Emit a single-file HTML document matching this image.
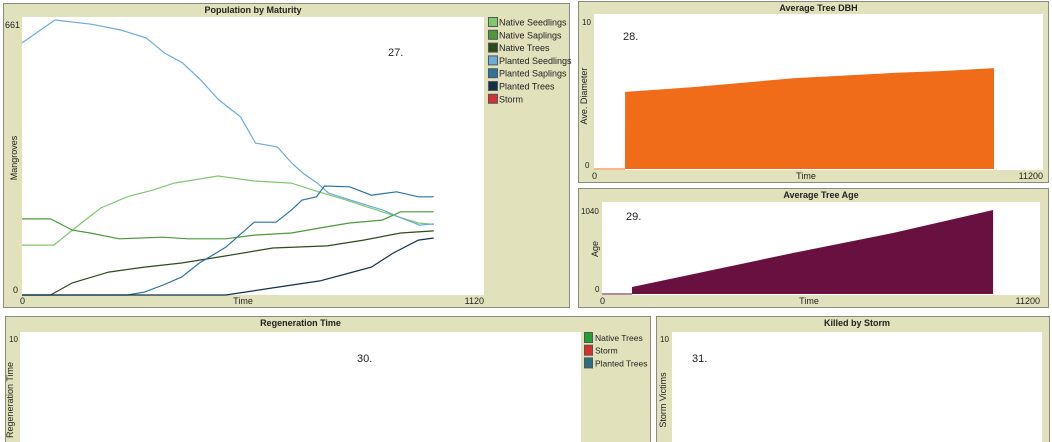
<!DOCTYPE html>
<html><head><meta charset="utf-8"><style>
html,body{margin:0;padding:0;background:#fff;width:1052px;height:442px;overflow:hidden}
svg{display:block;font-family:"Liberation Sans",sans-serif}
</style></head><body>
<svg id="s" width="1052" height="442" viewBox="0 0 1052 442"></svg>
<script>
// ---- Population by Maturity data ----
const popLabels=["Native Seedlings","Native Saplings","Native Trees","Planted Seedlings","Planted Saplings","Planted Trees","Storm"];
const popColors=["#7ec86e","#4a9a3a","#2c4c1c","#6aacdc","#2a74a0","#12304a","#d83030"];
const nsT=[0,77,122,191,255,316,369,475,563,653,706,786,873,961,998];
const nsV=[120,120,156,209,236,252,269,286,274,269,252,228,200,173,170];
const napT=[0,69,122,165,236,342,403,494,563,653,722,794,873,918,998];
const napV=[183,183,156,149,135,139,135,135,144,149,161,173,180,200,200];
const ntT=[0,69,122,210,297,387,494,608,740,828,918,998];
const ntV=[0,0,29,55,67,77,94,113,118,132,149,154];
const psT=[0,80,168,239,301,345,389,433,477,530,566,619,654,681,716,743,796,875,919,964,999];
const psV=[606,661,651,637,618,582,558,517,469,428,365,356,317,293,269,245,228,204,185,168,171];
const pspT=[0,255,297,342,387,430,494,563,616,653,679,714,733,794,847,908,961,998];
const pspV=[0,0,7,24,43,77,115,175,175,204,228,236,262,260,240,248,236,236];
const ptT=[0,494,608,722,794,847,900,961,998];
const ptV=[0,0,17,34,53,67,101,132,137];
const popYMax=661, popXMax=1120;
// ---- DBH ----
const dbhT=[0,774,775,2470,4963,7460,8706,9978];
const dbhV=[0,0,5.07,5.39,5.97,6.32,6.45,6.64];
// ---- Age ----
const ageT=[0,766,767,4884,7441,10000];
const ageV=[0,0,87,508,755,1040];

const NS="http://www.w3.org/2000/svg";
const svg=document.getElementById('s');
function el(tag,attrs,parent){const e=document.createElementNS(NS,tag);for(const k in attrs)e.setAttribute(k,attrs[k]);(parent||svg).appendChild(e);return e;}
function txt(x,y,s,extra){const t=el('text',Object.assign({x:x,y:y,'font-size':9,fill:'#222'},extra||{}));t.textContent=s;return t;}
function panel(x,y,w,h,title,name,px,py,pw,ph){
  const g=el('g',{});
  
  
  el('rect',{x:x+.5,y:y+.5,width:w,height:h,fill:'#e1e1bb',stroke:'#8a8a80'},g);
  el('rect',{x:px,y:py,width:pw,height:ph,fill:'#fff'},g);
  const t=txt(px+pw/2,y+10,title,{'text-anchor':'middle','font-weight':'bold'});
  
  
  g.appendChild(t);
  return g;
}
function vlabel(x,y,s,name){const t=txt(x,y,s,{'text-anchor':'middle',transform:`rotate(-90 ${x} ${y})`});
  
  }

// Main chart
panel(3,3,566,304,"Population by Maturity","population-chart",22,17,462,278);
const px0=22,px1=484,py0=295,py1=20;
const X=t=>px0+t/popXMax*(px1-px0), Y=v=>py0-v/popYMax*(py0-py1);
const series=[[nsT,nsV],[napT,napV],[ntT,ntV],[psT,psV],[pspT,pspV],[ptT,ptV]];
series.forEach((s,i)=>{
  let d='';
  s[0].forEach((t,j)=>{d+=(j?'L':'M')+X(t).toFixed(1)+','+Y(s[1][j]).toFixed(1);});
  const p=el('path',{d:d,fill:'none',stroke:popColors[i],'stroke-width':1.2});
  
  
});
txt(5,28,"661");txt(13,293,"0");txt(20,304,"0");
txt(243,304,"Time",{'text-anchor':'middle'});txt(484,304,"1120",{'text-anchor':'end'});
vlabel(17,158,"Mangroves","y-axis-title-mangroves");
txt(388,56,"27.",{'font-size':11});
popLabels.forEach((l,i)=>{
  const yy=17+i*12.8;
  const r=el('rect',{x:488.5,y:yy+.5,width:9,height:9,fill:popColors[i],stroke:'#555'});
  
  
  const t=txt(499,yy+8.5,l);
  
  
});

// DBH
panel(578,1,470,181,"Average Tree DBH","dbh-chart",594,14,449,156);
{const x0=594,x1=1043,y0=169,y1=17,XM=11200,YM=10;
 const XX=t=>x0+t/XM*(x1-x0),YY=v=>y0-v/YM*(y0-y1);
 let d=`M${XX(dbhT[0])},${y0}`;dbhT.forEach((t,j)=>{d+=`L${XX(t).toFixed(1)},${YY(dbhV[j]).toFixed(1)}`;});
 d+=`L${XX(dbhT[dbhT.length-1])},${y0}Z`;
 const p=el('path',{d:d,fill:'#f06c18'});
 
 
 el('line',{x1:x0,y1:y0,x2:XX(dbhT[1]),y2:y0,stroke:'#f06c18','stroke-width':1});
}
txt(582,25,"10",{'font-size':8});txt(585,168,"0",{'font-size':8});
txt(592,179,"0");txt(806,179,"Time",{'text-anchor':'middle'});txt(1043,179,"11200",{'text-anchor':'end'});
vlabel(587,96,"Ave. Diameter","y-axis-title-diameter");
txt(623,40,"28.",{'font-size':11});

// Age
panel(578,188,470,119,"Average Tree Age","age-chart",602,202,438,93);
{const x0=602,x1=1040,y0=294,y1=210,XM=11200,YM=1040;
 const XX=t=>x0+t/XM*(x1-x0),YY=v=>y0-v/YM*(y0-y1);
 let d=`M${XX(ageT[0])},${y0}`;ageT.forEach((t,j)=>{d+=`L${XX(t).toFixed(1)},${YY(ageV[j]).toFixed(1)}`;});
 d+=`L${XX(ageT[ageT.length-1])},${y0}Z`;
 const p=el('path',{d:d,fill:'#681040'});
 
 
 el('line',{x1:x0,y1:y0,x2:XX(ageT[1]),y2:y0,stroke:'#681040','stroke-width':1});
}
txt(581,214,"1040",{'font-size':8});txt(595,292,"0",{'font-size':8});
txt(600,304,"0");txt(809,304,"Time",{'text-anchor':'middle'});txt(1040,304,"11200",{'text-anchor':'end'});
vlabel(598,249,"Age","y-axis-title-age");
txt(626,220,"29.",{'font-size':11});

// Regeneration
panel(5,316,645,140,"Regeneration Time","regeneration-chart",20,332,561,120);
txt(9,342,"10",{'font-size':8});
vlabel(13,400,"Regeneration Time","y-axis-title-regeneration");
txt(357,362,"30.",{'font-size':11});
const regLabels=["Native Trees","Storm","Planted Trees"];
const regColors=["#22a030","#d83030","#2a7080"];
regLabels.forEach((l,i)=>{
  const yy=332+i*12.7;
  const r=el('rect',{x:584.5,y:yy+.5,width:8,height:10,fill:regColors[i],stroke:'#555'});
  
  
  const t=txt(595,yy+9,l,{'font-size':8.5});
  
  
});

// Killed by storm
panel(656,316,393,140,"Killed by Storm","storm-chart",672,332,370,120);
txt(660,342,"10",{'font-size':8});
vlabel(666,400,"Storm Victims","y-axis-title-storm-victims");
txt(692,362,"31.",{'font-size':11});
</script>
</body></html>
